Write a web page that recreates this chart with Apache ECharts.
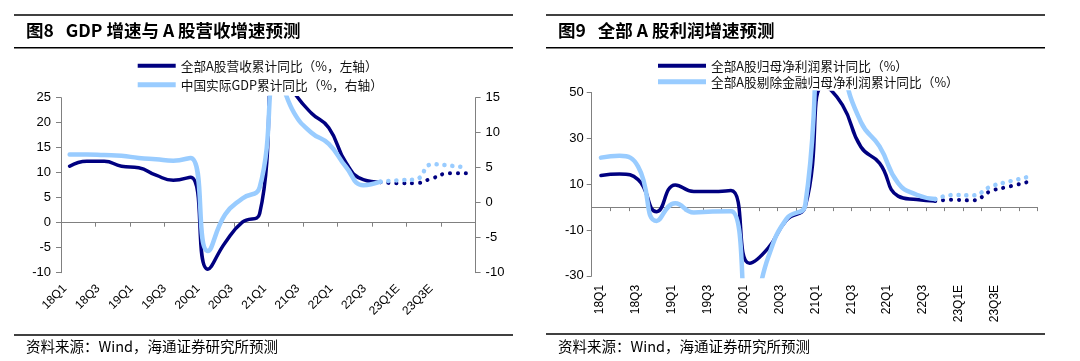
<!DOCTYPE html>
<html><head><meta charset="utf-8">
<script src="https://cdn.jsdelivr.net/npm/echarts@6/dist/echarts.min.js"></script>
<style>html,body{margin:0;padding:0;background:#fff}#c{width:1080px;height:361px}</style>
</head><body><div id="c"></div>
<script>
// ---------------- data ----------------
const categories = ['18Q1','18Q2','18Q3','18Q4','19Q1','19Q2','19Q3','19Q4','20Q1','20Q2','20Q3','20Q4',
  '21Q1','21Q2','21Q3','21Q4','22Q1','22Q2','22Q3','22Q4E','23Q1E','23Q2E','23Q3E','23Q4E'];
const forecastFrom = 18; // dotted (forecast) part starts at this index

// Fig 8
const revenueGrowth = [11.3, 12.3, 12.3, 11.3, 11.0, 9.5, 8.5, 9.1, -9.3, -4.0, 0.1, 1.8,
  32.0, 26.0, 21.9, 19.0, 12.0, 8.6, 8.1, 7.9, 7.9, 8.9, 9.9, 9.9];
const gdpGrowth = [6.9, 6.9, 6.8, 6.7, 6.4, 6.2, 6.0, 6.4, -6.9, -1.7, 0.6, 2.2,
  18.3, 12.8, 10.0, 8.4, 5.1, 2.5, 3.0, 3.2, 3.3, 5.5, 5.3, 5.0];
const leftAxisTicks = [-10, -5, 0, 5, 10, 15, 20, 25];
const rightAxisTicks = [-10, -5, 0, 5, 10, 15];

// Fig 9
const profitGrowth = [13.8, 14.4, 12.0, -2.0, 9.7, 6.8, 6.8, 7.2, -24.5, -17.9, -5.5, 0.3,
  53.0, 44.6, 26.2, 19.2, 4.8, 3.3, 2.7, 3.2, 2.9, 7.0, 9.0, 11.0];
const profitExFinGrowth = [21.6, 22.4, 17.7, -6.0, 1.7, -2.3, -1.9, -1.8, -50.0, -22.0, -5.0, 1.0,
  105.0, 62.0, 37.0, 26.5, 10.5, 5.4, 3.5, 5.3, 5.1, 9.0, 11.2, 13.2];
const profitAxisTicks = [-30, -10, 10, 30, 50];

const names8 = ['全部A股营收累计同比（%，左轴）', '中国实际GDP累计同比（%，右轴）'];
const names9 = ['全部A股归母净利润累计同比（%）', '全部A股剔除金融归母净利润累计同比（%）'];

// ---------------- style ----------------
const DARK = '#000080', LIGHT = '#99CCFF', AXIS = '#808080';
const CJK = 'Noto Sans CJK SC', LAT = 'Liberation Sans';

const solidPart = a => a.map((v, i) => i <= forecastFrom ? v : null);
const forecastPart = a => a.map((v, i) => i >= forecastFrom ? v : null);

function lineSeries(name, data, color, width, xi, yi, dotted) {
  return {
    name, type: 'line', data, xAxisIndex: xi, yAxisIndex: yi,
    smooth: 0.5, symbol: 'none', connectNulls: false, animation: false,
    itemStyle: { color },
    lineStyle: dotted ? { color, width, type: [0.1, 7.8], cap: 'round' } : { color, width, cap: 'round', join: 'round' }
  };
}

function yAx(grid, pos, ticks, margin) {
  return {
    gridIndex: grid, type: 'value', position: pos,
    min: ticks[0], max: ticks[ticks.length - 1], interval: ticks[1] - ticks[0],
    axisLine: { show: true, lineStyle: { color: AXIS, width: 1 } },
    axisTick: { show: true, length: 5, lineStyle: { color: AXIS } },
    axisLabel: { margin, fontSize: 13, color: '#000', fontFamily: LAT },
    splitLine: { show: false }
  };
}
function xLineAx(grid, tickInterval, onZeroIdx) {
  return {
    gridIndex: grid, type: 'category', data: categories, boundaryGap: true,
    axisLine: { show: true, onZero: true, onZeroAxisIndex: onZeroIdx, lineStyle: { color: AXIS, width: 1 } },
    axisTick: { show: true, interval: tickInterval, length: 4, lineStyle: { color: AXIS } },
    axisLabel: { show: false }, splitLine: { show: false }
  };
}
function xLabelAx(grid, rotate, margin) {
  return {
    gridIndex: grid, type: 'category', data: categories, boundaryGap: true,
    axisLine: { show: false }, axisTick: { show: false }, splitLine: { show: false },
    axisLabel: { interval: 1, rotate, margin, fontSize: 12, color: '#000', fontFamily: LAT }
  };
}
function legendItem(name, left, top, w, h) {
  return {
    data: [name], left, top, padding: 0, icon: 'rect', itemWidth: w, itemHeight: h,
    selectedMode: false,
    textStyle: { fontSize: 12.7, color: '#111', fontFamily: CJK }
  };
}
function rule(x1, x2, y) {
  return { type: 'line', shape: { x1, y1: y, x2, y2: y }, style: { stroke: '#000', lineWidth: 1.5 }, silent: true };
}

const chart = echarts.init(document.getElementById('c'));
chart.setOption({
  animation: false,
  backgroundColor: '#fff',
  title: [
    { text: '图8   GDP 增速与 A 股营收增速预测', left: 26, top: 22, padding: 0,
      textStyle: { fontSize: 17.5, fontWeight: 'bold', color: '#000', fontFamily: CJK } },
    { text: '图9   全部 A 股利润增速预测', left: 558, top: 22, padding: 0,
      textStyle: { fontSize: 17.5, fontWeight: 'bold', color: '#000', fontFamily: CJK } },
    { text: '资料来源：Wind，海通证券研究所预测', left: 26, top: 339, padding: 0,
      textStyle: { fontSize: 14.5, fontWeight: 'normal', color: '#000', fontFamily: CJK } },
    { text: '资料来源：Wind，海通证券研究所预测', left: 558, top: 339, padding: 0,
      textStyle: { fontSize: 14.5, fontWeight: 'normal', color: '#000', fontFamily: CJK } }
  ],
  legend: [
    legendItem(names8[0], 137.7, 59.5, 38, 4),
    legendItem(names8[1], 137.7, 78.5, 38, 5),
    legendItem(names9[0], 658, 59.5, 48, 4),
    legendItem(names9[1], 658, 75.5, 48, 5)
  ],
  grid: [
    { left: 61, top: 97.7, width: 414.6, height: 175 },
    { left: 56.5, top: 97.7, width: 399.6, height: 175 },
    { left: 591.7, top: 92.5, width: 445.7, height: 183.4 },
    { left: 591, top: 92.5, width: 430.8, height: 183.4 }
  ],
  xAxis: [
    xLineAx(0, 1, 0),
    xLabelAx(1, 45, 14),
    xLineAx(2, 0, 3),
    xLabelAx(3, 90, 9)
  ],
  yAxis: [
    yAx(0, 'left', leftAxisTicks, 10),
    yAx(0, 'right', rightAxisTicks, 10),
    { gridIndex: 1, type: 'value', show: false },
    yAx(2, 'left', profitAxisTicks, 8),
    { gridIndex: 3, type: 'value', show: false }
  ],
  series: [
    lineSeries(names8[0], solidPart(revenueGrowth), DARK, 3.5, 0, 0, false),
    lineSeries('营收预测', forecastPart(revenueGrowth), DARK, 4, 0, 0, true),
    lineSeries(names8[1], solidPart(gdpGrowth), LIGHT, 4.5, 0, 1, false),
    lineSeries('GDP预测', forecastPart(gdpGrowth), LIGHT, 4.5, 0, 1, true),
    lineSeries(names9[0], solidPart(profitGrowth), DARK, 3.5, 2, 3, false),
    lineSeries('利润预测', forecastPart(profitGrowth), DARK, 4, 2, 3, true),
    lineSeries(names9[1], solidPart(profitExFinGrowth), LIGHT, 4.5, 2, 3, false),
    lineSeries('剔除金融利润预测', forecastPart(profitExFinGrowth), LIGHT, 4.5, 2, 3, true)
  ],
  graphic: [
    rule(14, 513, 15), rule(14, 513, 47.7), rule(14, 513, 335),
    rule(546, 1045, 15), rule(546, 1045, 47.7), rule(546, 1045, 334)
  ]
});
</script>
</body></html>
